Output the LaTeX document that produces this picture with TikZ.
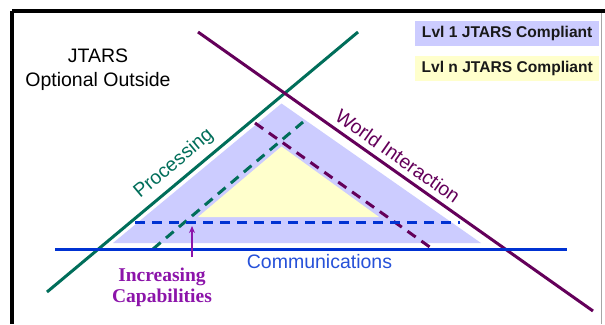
\documentclass[tikz,border=0pt]{standalone}
\usepackage{fontspec}
\setmainfont{Liberation Sans}
\newfontfamily\capfont{Liberation Serif}
\usetikzlibrary{arrows.meta}

\definecolor{lavender}{RGB}{204,204,255}
\definecolor{paleyellow}{RGB}{255,255,204}
\definecolor{procgreen}{RGB}{0,110,90}
\definecolor{worldpurple}{RGB}{100,0,90}
\definecolor{commblue}{RGB}{0,50,210}
\definecolor{capviolet}{RGB}{140,20,170}

\tikzset{
  axisline/.style={line width=3pt},
  levelline/.style={line width=3pt,dash pattern=on 10pt off 7pt},
  bigtext/.style={font=\fontsize{19.5}{23.7}\selectfont,inner sep=0pt,align=center},
  legendbox/.style={font=\fontsize{15.6}{17}\selectfont\bfseries,text=black!90,
    minimum width=184pt,minimum height=25pt,inner sep=0pt}
}

\begin{document}
\begin{tikzpicture}[x=1pt,y=-1pt]
  \useasboundingbox (0,0) rectangle (605,324);
  \fill[white] (0,0) rectangle (605,324);

	% Marco
	\draw[line width=3.5pt] (12,11) -- (605,11);
	\draw[line width=3.5pt] (12,11) -- (12,324);
	\draw[black!35,line width=1pt] (601,13) -- (601,324);

	% Triangulos
	\fill[lavender] (113,243) -- (281.5,103.5) -- (481,243) -- cycle;
	\fill[paleyellow] (198,217) -- (281.5,146.5) -- (379,217) -- cycle;

	% Lineas discontinuas
	\coordinate (pdlow) at (153,249);
	\coordinate (pdhigh) at (303,122);
	\coordinate (wdhigh) at (255,123);
	\coordinate (wdlow) at (434,250);
	\coordinate (cdleft) at (135,222);
	\coordinate (cdright) at (460,222);
	\draw[levelline,procgreen] (pdlow) -- (pdhigh);
	\draw[levelline,worldpurple] (wdhigh) -- (wdlow);
	\draw[levelline,commblue] (cdleft) -- (cdright);

	% Lineas solidas
	\coordinate (plow) at (47,292);
	\coordinate (phigh) at (358,32);
	\coordinate (whigh) at (198,32);
	\coordinate (wlow) at (593,311);
	\coordinate (cleft) at (55,249);
	\coordinate (cright) at (567,249);
	\draw[axisline,procgreen] (plow) -- (phigh);
	\draw[axisline,worldpurple] (whigh) -- (wlow);
	\draw[axisline,commblue] (cleft) -- (cright);

	% Etiquetas
	\node[bigtext] (outside) at (98,70) {JTARS\\Optional Outside};
	\node[bigtext,text=procgreen,rotate=39.9] (processing) at (174,164) {Processing};
	\node[bigtext,text=worldpurple,rotate=-35.2] (world) at (398,156) {World Interaction};
	\node[bigtext,text=commblue!85!white] (comms) at (319.5,262) {Communications};

	% Flecha
	\coordinate (arrowfoot) at (192,257);
	\coordinate (arrowtip) at (192,226);
	\draw[capviolet,line width=2pt,-{Stealth[length=7pt,width=6pt]}] (arrowfoot) -- (arrowtip);
	\node[text=capviolet,font=\capfont\fontsize{19.5}{21.5}\selectfont\bfseries,align=center,inner sep=0pt]
	  (capabilities) at (162,287.5) {Increasing\\Capabilities};

	% Leyenda
	\node[legendbox,fill=lavender,anchor=north west] (lvlone) at (415,20.5) {Lvl 1 JTARS Compliant};
	\node[legendbox,fill=paleyellow,anchor=north west] (lvln) at (415,55.5) {Lvl n JTARS Compliant};
\end{tikzpicture}
\end{document}
